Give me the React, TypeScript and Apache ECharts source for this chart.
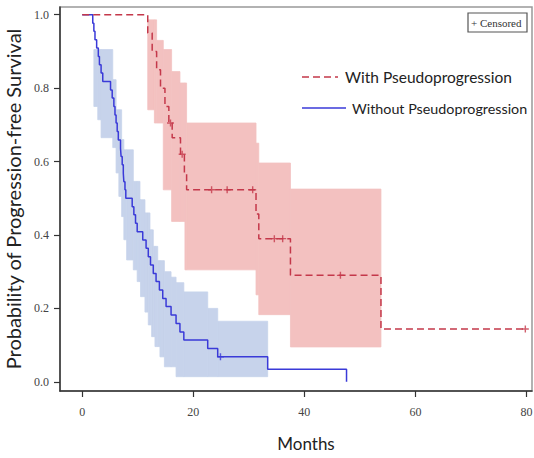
import React, { useEffect, useRef } from "react";
import * as echarts from "echarts";

const xTicks = [0, 20, 40, 60, 80];
const yTicks = [0, 0.2, 0.4, 0.6, 0.8, 1.0];

// With Pseudoprogression (red, dashed)
const withTimes = [0, 11.8, 12.6, 13.4, 14.1, 14.9, 15.6, 16.2, 17.7, 18.4, 18.8, 31.3, 31.8, 37.5, 53.8, 79.8];
const withSurv = [1.0, 0.95, 0.9, 0.85, 0.8, 0.75, 0.705, 0.665, 0.62, 0.57, 0.523, 0.457, 0.39, 0.29, 0.144, 0.144];
const withCensorTimes = [15.9, 18.0, 23.3, 26.1, 30.7, 34.6, 36.1, 46.5, 79.8];
const withCensorSurv = [0.705, 0.62, 0.523, 0.523, 0.523, 0.39, 0.39, 0.29, 0.144];
const withBandTimes = [11.8, 13.0, 13.4, 14.6, 16.1, 17.6, 18.5, 18.8, 31.3, 31.8, 37.5];
const withBandLower = [0.741, 0.705, 0.705, 0.523, 0.437, 0.437, 0.305, 0.305, 0.237, 0.183, 0.095];
const withBandUpper = [0.986, 0.986, 0.93, 0.905, 0.845, 0.814, 0.814, 0.705, 0.65, 0.596, 0.525];
const withBandEnd = 53.8;

// Without Pseudoprogression (blue, solid)
const withoutTimes = [0, 1.9, 2.1, 2.3, 2.6, 2.9, 3.1, 3.4, 3.7, 5.1, 5.4, 5.7, 5.9, 6.1, 6.3, 6.5, 6.9, 7.0, 7.2, 7.4, 7.5, 7.7, 7.85, 9.0, 9.3, 9.6, 9.9, 10.9, 11.5, 11.9, 12.3, 12.8, 13.3, 13.9, 14.5, 15.1, 16.0, 16.9, 17.6, 18.3, 22.6, 24.4, 33.4, 47.6];
const withoutSurv = [1.0, 0.977, 0.955, 0.932, 0.909, 0.886, 0.864, 0.841, 0.818, 0.795, 0.773, 0.75, 0.727, 0.705, 0.682, 0.659, 0.636, 0.614, 0.591, 0.568, 0.545, 0.523, 0.5, 0.477, 0.455, 0.432, 0.409, 0.386, 0.364, 0.341, 0.318, 0.295, 0.273, 0.25, 0.227, 0.205, 0.182, 0.159, 0.136, 0.114, 0.091, 0.068, 0.034, 0.0];
const withoutCensorTimes = [24.9];
const withoutCensorSurv = [0.068];
const withoutBandTimes = [2.1, 2.8, 3.4, 5.5, 6.1, 6.6, 7.1, 7.5, 8.0, 9.2, 9.9, 10.4, 10.5, 11.3, 11.9, 12.2, 12.5, 12.8, 13.1, 13.6, 14.0, 14.8, 16.0, 16.9, 18.3, 22.6, 24.4];
const withoutBandLower = [0.75, 0.714, 0.665, 0.638, 0.569, 0.505, 0.45, 0.387, 0.332, 0.305, 0.273, 0.273, 0.232, 0.19, 0.155, 0.155, 0.123, 0.123, 0.096, 0.096, 0.068, 0.041, 0.041, 0.014, 0.014, 0.014, 0.014];
const withoutBandUpper = [0.905, 0.905, 0.905, 0.823, 0.741, 0.741, 0.66, 0.632, 0.632, 0.546, 0.546, 0.496, 0.496, 0.46, 0.46, 0.414, 0.414, 0.369, 0.369, 0.33, 0.33, 0.3, 0.285, 0.27, 0.245, 0.2, 0.165];
const withoutBandEnd = 33.4;

const RED = "#C4384A";
const RED_BAND = "#F3C1C0";
const BLUE = "#3A3AD8";
const BLUE_BAND = "#C7D3EB";

const pairs = (xs: number[], ys: number[]) => xs.map((x, i) => [x, ys[i]]);
const bandData = (ts: number[], lo: number[], up: number[], end: number) =>
  ts.map((t, i) => [t, i + 1 < ts.length ? ts[i + 1] : end, lo[i], up[i]]);

const bandRender = (color: string) => (params: any, api: any) => {
  const p0 = api.coord([api.value(0), api.value(3)]);
  const p1 = api.coord([api.value(1), api.value(2)]);
  return {
    type: "rect",
    shape: { x: p0[0], y: p0[1], width: p1[0] - p0[0], height: p1[1] - p0[1] },
    style: { fill: color, stroke: color, lineWidth: 0.8 },
  };
};

const PLUS = "path://M4,0H6V4H10V6H6V10H4V6H0V4H4Z";

export default function App() {
  const ref = useRef<HTMLDivElement>(null);
  useEffect(() => {
    if (!ref.current) return;
    const chart = echarts.init(ref.current, undefined, { renderer: "svg" });
    const tickFont = { fontFamily: "Liberation Serif", fontSize: 12, color: "#444" };
    chart.setOption({
      animation: false,
      backgroundColor: "#fff",
      grid: {
        left: 60,
        right: 2,
        top: 7,
        bottom: 67,
        show: true,
        borderColor: "#999",
        borderWidth: 1.5,
        containLabel: false,
        outerBoundsMode: "none",
      },
      xAxis: {
        type: "value",
        min: -4,
        max: 81,
        axisLine: { show: true, onZero: false, lineStyle: { color: "#333", width: 1.5 } },
        axisTick: { show: true, customValues: xTicks, length: 6, lineStyle: { color: "#333", width: 1.2 } },
        axisLabel: { customValues: xTicks, margin: 15, ...tickFont },
        splitLine: { show: false },
      },
      yAxis: {
        type: "value",
        min: -0.025,
        max: 1.021,
        name: "Probability of Progression-free Survival",
        nameLocation: "middle",
        nameGap: 35,
        nameRotate: 90,
        nameTextStyle: { fontFamily: "Lato", fontSize: 20, color: "#222" },
        axisLine: { show: true, onZero: false, lineStyle: { color: "#333", width: 1.5 } },
        axisTick: { show: true, customValues: yTicks, length: 6, lineStyle: { color: "#333", width: 1.2 } },
        axisLabel: { customValues: yTicks, margin: 11, formatter: (v: number) => v.toFixed(1), ...tickFont },
        splitLine: { show: false },
      },
      series: [
        {
          type: "custom",
          name: "withoutBand",
          renderItem: bandRender(BLUE_BAND),
          data: bandData(withoutBandTimes, withoutBandLower, withoutBandUpper, withoutBandEnd),
          encode: { x: [0, 1], y: [2, 3] },
          z: 1,
          silent: true,
        },
        {
          type: "custom",
          name: "withBand",
          renderItem: bandRender(RED_BAND),
          data: bandData(withBandTimes, withBandLower, withBandUpper, withBandEnd),
          encode: { x: [0, 1], y: [2, 3] },
          z: 1,
          silent: true,
        },
        {
          type: "line",
          name: "Without Pseudoprogression",
          data: pairs(withoutTimes, withoutSurv),
          step: "end",
          showSymbol: false,
          lineStyle: { color: BLUE, width: 1.5 },
          z: 3,
        },
        {
          type: "line",
          name: "With Pseudoprogression",
          data: pairs(withTimes, withSurv),
          step: "end",
          showSymbol: false,
          lineStyle: { color: RED, width: 1.5, type: [7, 4] },
          z: 4,
        },
        {
          type: "scatter",
          data: pairs(withoutCensorTimes, withoutCensorSurv),
          symbol: PLUS,
          symbolSize: 7,
          itemStyle: { color: BLUE },
          z: 5,
        },
        {
          type: "scatter",
          data: pairs(withCensorTimes, withCensorSurv),
          symbol: PLUS,
          symbolSize: 7,
          itemStyle: { color: RED },
          z: 5,
        },
      ],
      graphic: [
        {
          type: "rect",
          shape: { x: 468, y: 13, width: 59, height: 19 },
          style: { fill: "#fff", stroke: "#555", lineWidth: 1.2 },
          z: 10,
        },
        {
          type: "text",
          x: 471,
          y: 22.5,
          style: { text: "+ Censored", fontFamily: "Liberation Serif", fontSize: 11, fill: "#333", verticalAlign: "middle" },
          z: 11,
        },
        {
          type: "line",
          shape: { x1: 302, y1: 77, x2: 338, y2: 77 },
          style: { stroke: RED, lineWidth: 1.5, lineDash: [7, 4] },
          z: 10,
        },
        {
          type: "text",
          x: 345,
          y: 77,
          style: { text: "With Pseudoprogression", fontFamily: "Lato", fontSize: 15.5, fill: "#222", verticalAlign: "middle" },
          z: 10,
        },
        {
          type: "line",
          shape: { x1: 302, y1: 108, x2: 346, y2: 108 },
          style: { stroke: BLUE, lineWidth: 1.5 },
          z: 10,
        },
        {
          type: "text",
          x: 352,
          y: 108,
          style: { text: "Without Pseudoprogression", fontFamily: "Lato", fontSize: 14.3, fill: "#222", verticalAlign: "middle" },
          z: 10,
        },
        {
          type: "text",
          x: 306,
          y: 443,
          style: { text: "Months", fontFamily: "Lato", fontSize: 17, fill: "#222", align: "center", verticalAlign: "middle" },
          z: 10,
        },
      ],
    });
    return () => chart.dispose();
  }, []);
  return <div ref={ref} style={{ position: "fixed", left: 0, top: 0, width: 534, height: 458 }} />;
}
